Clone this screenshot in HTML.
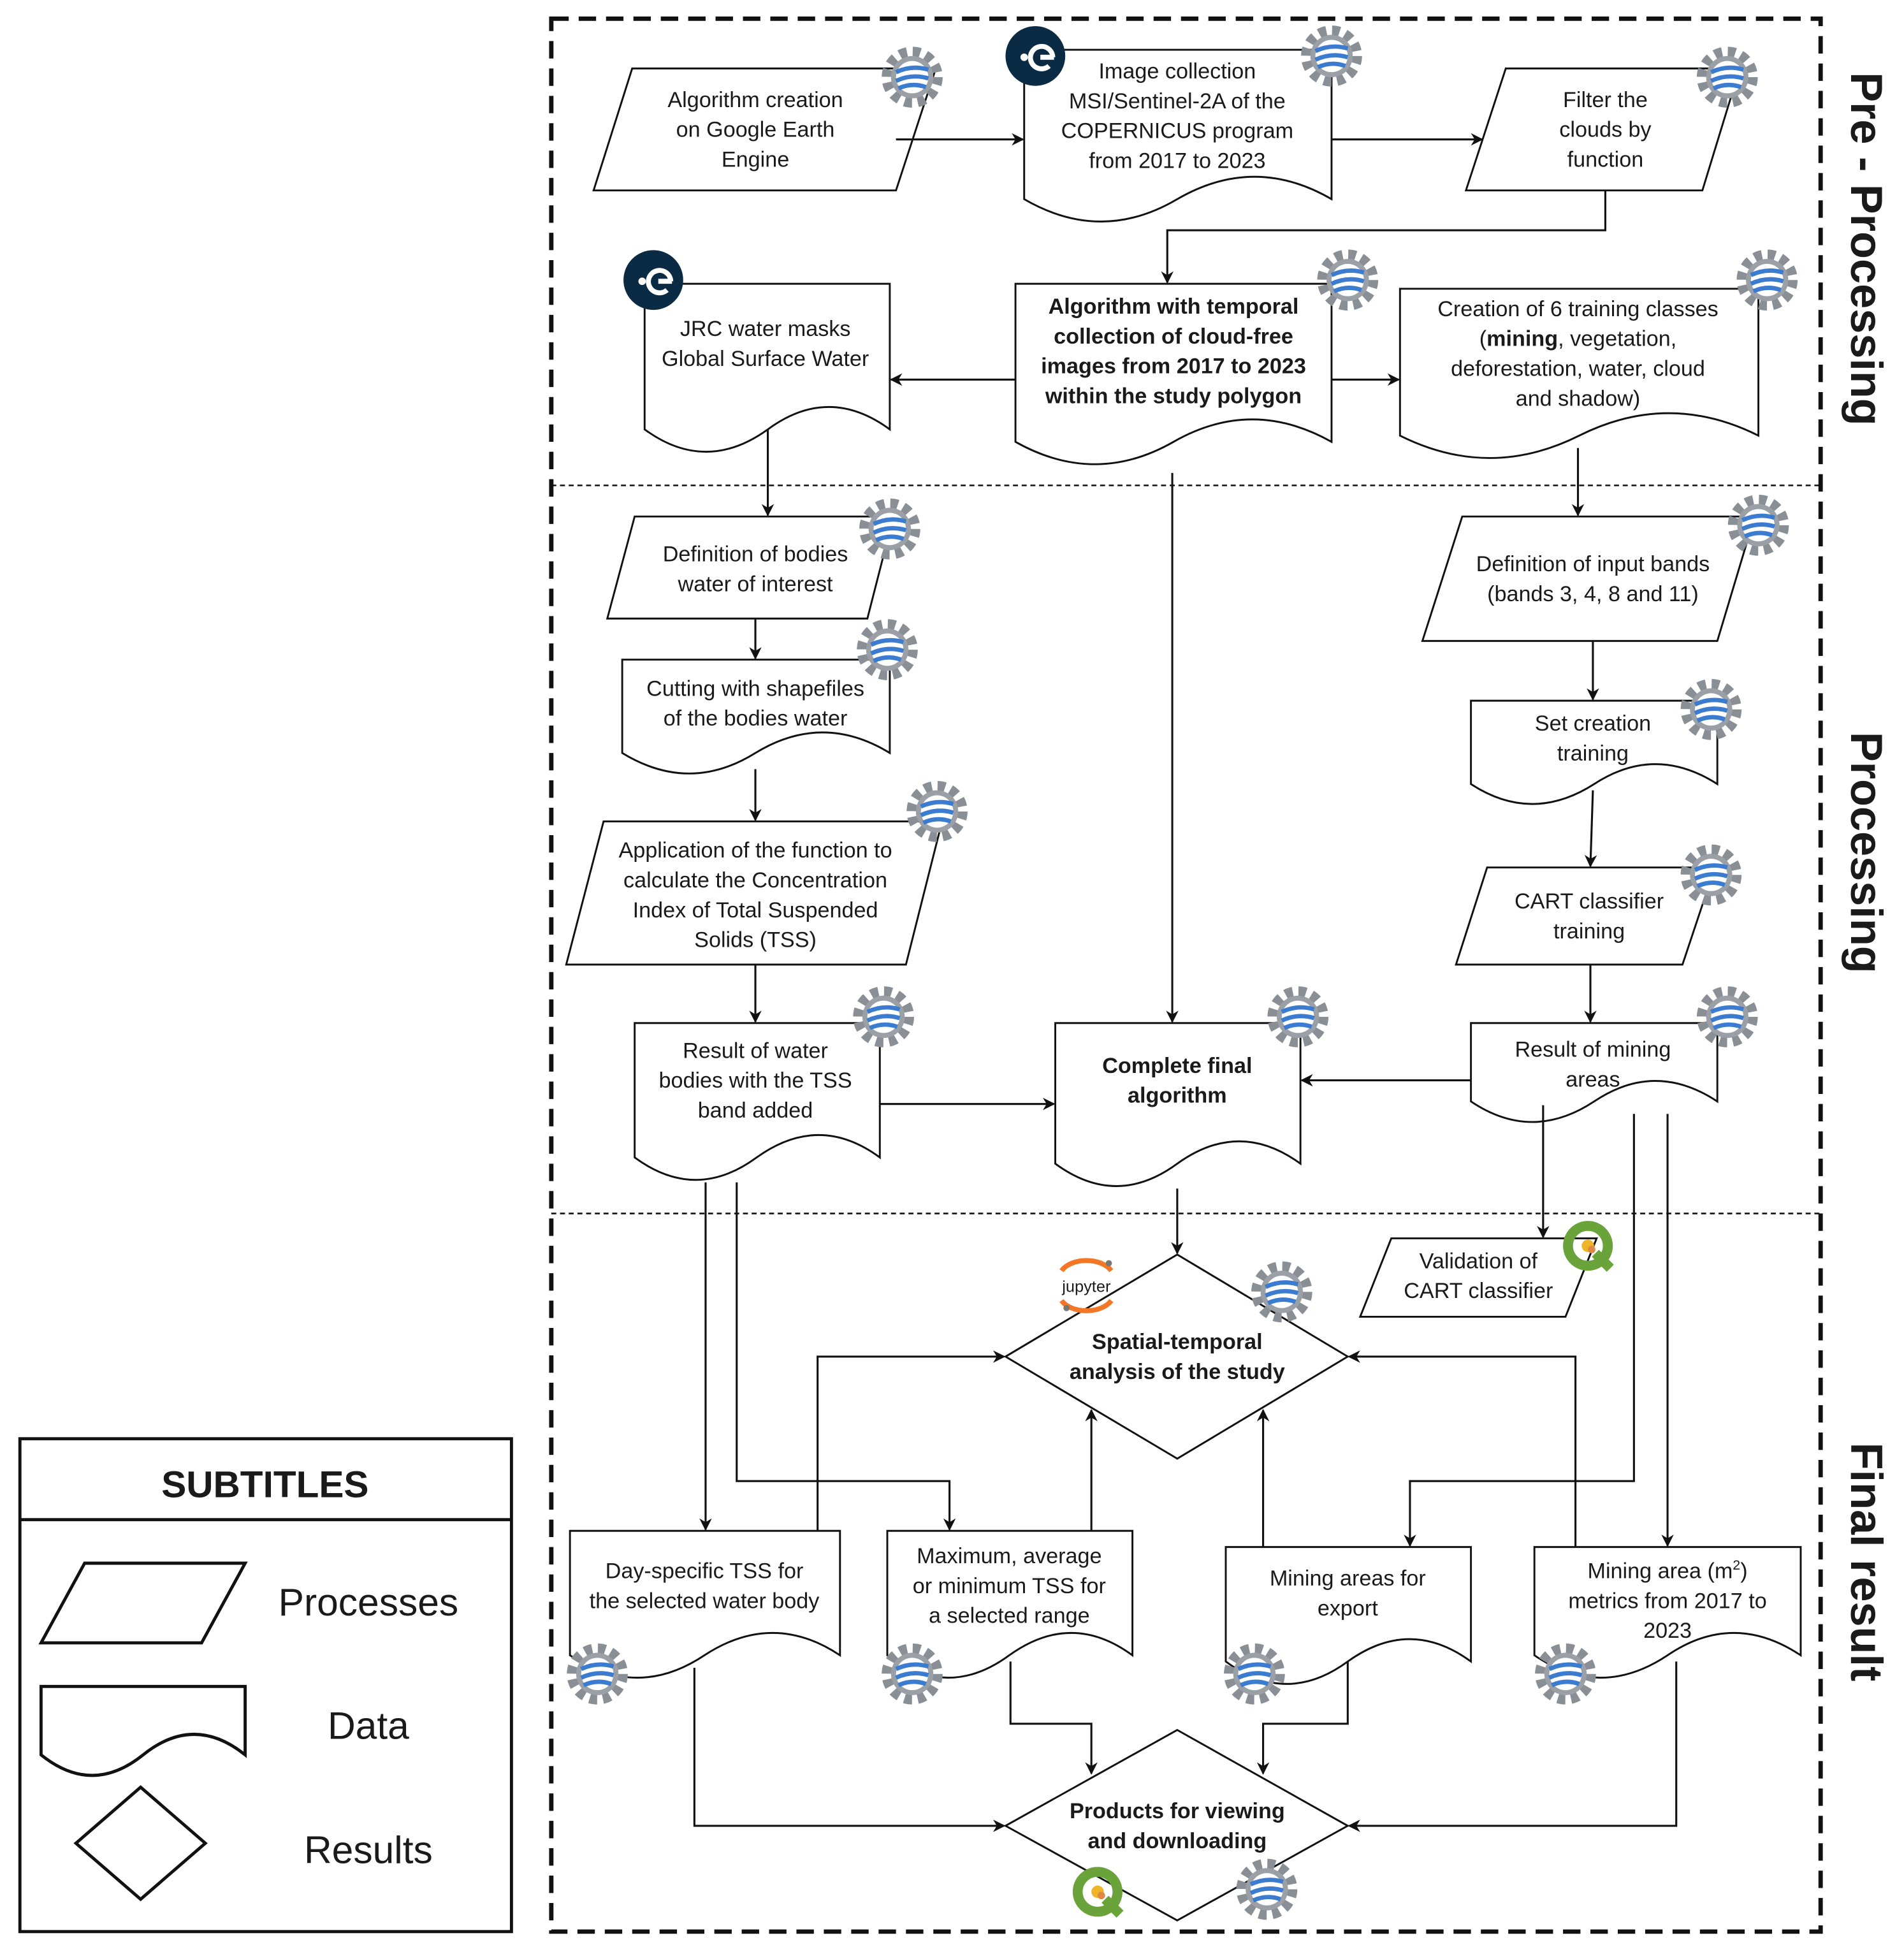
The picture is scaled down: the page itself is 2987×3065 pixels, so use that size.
<!DOCTYPE html>
<html><head><meta charset="utf-8"><style>
html,body{margin:0;padding:0;background:#fff;}
svg{display:block;}
text{font-family:"Liberation Sans",Arial,sans-serif;fill:#1a1a1a;}
</style></head><body>
<svg width="2987" height="3065" viewBox="0 0 1530 1570" preserveAspectRatio="none" xmlns="http://www.w3.org/2000/svg">
<defs>
<marker id="ar" markerWidth="10" markerHeight="10" refX="9" refY="5" orient="auto" markerUnits="userSpaceOnUse"><path d="M0,0 L10,5 L0,10 L3,5 Z" fill="#111"/></marker>
<g id="gee">
<circle r="20" fill="none" stroke="#8a8f96" stroke-width="9" stroke-dasharray="6 4.5"/>
<circle r="17" fill="#9aa0a6"/>
<circle r="13" fill="#fff"/>
<path d="M-13,-4 Q0,-10 13,-6 M-13,3 Q0,-3 13,1 M-11,9 Q0,4 11,8" stroke="#3b7bd0" stroke-width="3.5" fill="none"/>
</g>
<g id="esa"><circle r="24" fill="#0b2b45"/><circle cx="-9" cy="1" r="3" fill="#fff"/><path d="M14,1 A9,9 0 1 0 11,8" stroke="#fff" stroke-width="4" fill="none"/><path d="M4,1 H15" stroke="#fff" stroke-width="4"/></g>
<g id="qgis"><circle r="16" fill="none" stroke="#6aa33a" stroke-width="8"/><path d="M6,6 L18,18" stroke="#6aa33a" stroke-width="8"/><circle r="5" fill="#f0b429"/><circle cx="3" cy="3" r="3" fill="#d84"/></g>
</defs>

<rect x="443" y="15" width="1020" height="1537" fill="none" stroke="#111" stroke-width="3.5" stroke-dasharray="14 8"/>
<line x1="443" y1="390" x2="1463" y2="390" stroke="#111" stroke-width="1.3" stroke-dasharray="4 3"/>
<line x1="443" y1="975" x2="1463" y2="975" stroke="#111" stroke-width="1.3" stroke-dasharray="4 3"/>
<text transform="translate(1497,200) rotate(90)" font-size="36" font-weight="bold" text-anchor="middle" dominant-baseline="middle">Pre - Processing</text>
<text transform="translate(1497,685) rotate(90)" font-size="36" font-weight="bold" text-anchor="middle" dominant-baseline="middle">Processing</text>
<text transform="translate(1497,1255) rotate(90)" font-size="36" font-weight="bold" text-anchor="middle" dominant-baseline="middle">Final result</text>

<rect x="16" y="1156" width="395" height="396" fill="none" stroke="#111" stroke-width="2.5"/>
<line x1="16" y1="1221" x2="411" y2="1221" stroke="#111" stroke-width="2.5"/>
<text x="213" y="1203" font-size="30" font-weight="bold" text-anchor="middle">SUBTITLES</text>
<path d="M68,1256 H197 L162,1320 H33 Z" fill="#fff" stroke="#111" stroke-width="2.5"/>
<text x="296" y="1298" font-size="31" text-anchor="middle">Processes</text>
<path d="M33,1355 H197 V1410 Q156,1377 115,1410 Q74,1443 33,1410 Z" fill="#fff" stroke="#111" stroke-width="2.5"/>
<text x="296" y="1397" font-size="31" text-anchor="middle">Data</text>
<path d="M113,1436 L165,1481 L113,1526 L61,1481 Z" fill="#fff" stroke="#111" stroke-width="2.5"/>
<text x="296" y="1497" font-size="31" text-anchor="middle">Results</text>

<g fill="#fff" stroke="#111" stroke-width="1.5">
<path d="M508,55 H752 L720,153 H477 Z"/>
<path d="M1210,55 H1398 L1368,153 H1178 Z"/>
<path d="M510,415 H718 L697,497 H488 Z"/>
<path d="M1175,415 H1410 L1380,515 H1143 Z"/>
<path d="M485,660 H757 L728,775 H455 Z"/>
<path d="M1195,697 H1378 L1352,775 H1170 Z"/>
<path d="M1118,995 H1283 L1258,1058 H1093 Z"/>
<path d="M823,40 H1070 V160 Q1008,124 946,160 Q885,196 823,160 Z"/>
<path d="M518,228 H715 V345 Q666,309 617,345 Q567,381 518,345 Z"/>
<path d="M816,228 H1070 V355 Q1006,319 943,355 Q880,391 816,355 Z"/>
<path d="M1125,232 H1413 V350 Q1341,314 1269,350 Q1197,386 1125,350 Z"/>
<path d="M500,530 H715 V605 Q661,572 607,605 Q554,638 500,605 Z"/>
<path d="M1182,563 H1380 V630 Q1330,598 1281,630 Q1231,662 1182,630 Z"/>
<path d="M510,822 H707 V930 Q658,894 608,930 Q559,966 510,930 Z"/>
<path d="M848,822 H1045 V935 Q996,899 946,935 Q897,971 848,935 Z"/>
<path d="M1182,822 H1380 V885 Q1330,852 1281,885 Q1231,918 1182,885 Z"/>
<path d="M458,1230 H675 V1330 Q621,1294 566,1330 Q512,1366 458,1330 Z"/>
<path d="M713,1230 H910 V1330 Q861,1294 811,1330 Q762,1366 713,1330 Z"/>
<path d="M985,1243 H1182 V1335 Q1133,1299 1083,1335 Q1034,1371 985,1335 Z"/>
<path d="M1233,1243 H1447 V1330 Q1393,1294 1340,1330 Q1286,1366 1233,1330 Z"/>
<path d="M946,1008 L1083,1090 L946,1172 L808,1090 Z"/>
<path d="M946,1390 L1083,1467 L946,1543 L808,1467 Z"/>
</g>

<g fill="none" stroke="#111" stroke-width="1.6" marker-end="url(#ar)">
<path d="M720,112 H822"/>
<path d="M1070,112 H1191"/>
<path d="M1290,153 V185 H938 V227"/>
<path d="M816,305 H716"/>
<path d="M1070,305 H1124"/>
<path d="M617,345 V414"/>
<path d="M1268,360 V414"/>
<path d="M607,497 V529"/>
<path d="M607,618 V659"/>
<path d="M607,775 V821"/>
<path d="M1280,515 V562"/>
<path d="M1280,635 L1278,696"/>
<path d="M1278,775 V821"/>
<path d="M942,380 V821"/>
<path d="M707,887 H847"/>
<path d="M1182,868 H1046"/>
<path d="M1240,888 V994"/>
<path d="M946,955 V1007"/>
<path d="M567,950 V1229"/>
<path d="M592,950 V1190 H763 V1229"/>
<path d="M657,1230 V1090 H807"/>
<path d="M877,1230 V1133"/>
<path d="M1015,1243 V1133"/>
<path d="M1266,1243 V1090 H1084"/>
<path d="M1313,895 V1190 H1133 V1242"/>
<path d="M1340,895 V1242"/>
<path d="M558,1340 V1467 H807"/>
<path d="M812,1335 V1385 H877 V1425"/>
<path d="M1083,1335 V1385 H1015 V1425"/>
<path d="M1347,1335 V1467 H1084"/>
</g>

<g font-size="17.5" text-anchor="middle">
<text x="607" y="86">Algorithm creation<tspan x="607" dy="24">on Google Earth</tspan><tspan x="607" dy="24">Engine</tspan></text>
<text x="946" y="63">Image collection<tspan x="946" dy="24">MSI/Sentinel-2A of the</tspan><tspan x="946" dy="24">COPERNICUS program</tspan><tspan x="946" dy="24">from 2017 to 2023</tspan></text>
<text x="1290" y="86">Filter the<tspan x="1290" dy="24">clouds by</tspan><tspan x="1290" dy="24">function</tspan></text>
<text x="615" y="270">JRC water masks<tspan x="615" dy="24">Global Surface Water</tspan></text>
<text x="943" y="252" font-weight="bold">Algorithm with temporal<tspan x="943" dy="24">collection of cloud-free</tspan><tspan x="943" dy="24">images from 2017 to 2023</tspan><tspan x="943" dy="24">within the study polygon</tspan></text>
<text x="1268" y="254">Creation of 6 training classes<tspan x="1268" dy="24">(<tspan font-weight="bold">mining</tspan>, vegetation,</tspan><tspan x="1268" dy="24">deforestation, water, cloud</tspan><tspan x="1268" dy="24">and shadow)</tspan></text>
<text x="607" y="451">Definition of bodies<tspan x="607" dy="24">water of interest</tspan></text>
<text x="1280" y="459">Definition of input bands<tspan x="1280" dy="24">(bands 3, 4, 8 and 11)</tspan></text>
<text x="607" y="559">Cutting with shapefiles<tspan x="607" dy="24">of the bodies water</tspan></text>
<text x="1280" y="587">Set creation<tspan x="1280" dy="24">training</tspan></text>
<text x="607" y="689">Application of the function to<tspan x="607" dy="24">calculate the Concentration</tspan><tspan x="607" dy="24">Index of Total Suspended</tspan><tspan x="607" dy="24">Solids (TSS)</tspan></text>
<text x="1277" y="730">CART classifier<tspan x="1277" dy="24">training</tspan></text>
<text x="607" y="850">Result of water<tspan x="607" dy="24">bodies with the TSS</tspan><tspan x="607" dy="24">band added</tspan></text>
<text x="946" y="862" font-weight="bold">Complete final<tspan x="946" dy="24">algorithm</tspan></text>
<text x="1280" y="849">Result of mining<tspan x="1280" dy="24">areas</tspan></text>
<text x="1188" y="1019">Validation of<tspan x="1188" dy="24">CART classifier</tspan></text>
<text x="946" y="1084" font-weight="bold">Spatial-temporal<tspan x="946" dy="24">analysis of the study</tspan></text>
<text x="566" y="1268">Day-specific TSS for<tspan x="566" dy="24">the selected water body</tspan></text>
<text x="811" y="1256">Maximum, average<tspan x="811" dy="24">or minimum TSS for</tspan><tspan x="811" dy="24">a selected range</tspan></text>
<text x="1083" y="1274">Mining areas for<tspan x="1083" dy="24">export</tspan></text>
<text x="1340" y="1268">Mining area (m<tspan font-size="11" dy="-7">2</tspan><tspan dy="7">)</tspan><tspan x="1340" dy="24">metrics from 2017 to</tspan><tspan x="1340" dy="24">2023</tspan></text>
<text x="946" y="1461" font-weight="bold">Products for viewing<tspan x="946" dy="24">and downloading</tspan></text>
</g>

<use href="#gee" x="733" y="62"/><use href="#gee" x="1070" y="45"/><use href="#gee" x="1388" y="62"/>
<use href="#gee" x="1083" y="225"/><use href="#gee" x="1420" y="225"/><use href="#gee" x="715" y="425"/>
<use href="#gee" x="713" y="522"/><use href="#gee" x="753" y="652"/><use href="#gee" x="1413" y="422"/>
<use href="#gee" x="1375" y="570"/><use href="#gee" x="1375" y="703"/><use href="#gee" x="710" y="817"/>
<use href="#gee" x="1043" y="817"/><use href="#gee" x="1388" y="817"/><use href="#gee" x="1030" y="1038"/>
<use href="#gee" x="480" y="1345"/><use href="#gee" x="733" y="1345"/><use href="#gee" x="1008" y="1345"/>
<use href="#gee" x="1258" y="1345"/><use href="#gee" x="1018" y="1518"/>
<use href="#esa" x="832" y="45"/><use href="#esa" x="525" y="225"/>
<use href="#qgis" x="1276" y="1001"/><use href="#qgis" x="882" y="1520"/>
<g transform="translate(873,1033)">
<path d="M-20,-12 A22,14 0 0 1 20,-12" stroke="#f37726" stroke-width="4" fill="none"/>
<path d="M-20,12 A22,14 0 0 0 20,12" stroke="#f37726" stroke-width="4" fill="none"/>
<text x="0" y="5" font-size="13" text-anchor="middle" fill="#555">jupyter</text>
<circle cx="18" cy="-18" r="2.5" fill="#777"/><circle cx="-16" cy="18" r="2.5" fill="#777"/>
</g>
</svg>
</body></html>
